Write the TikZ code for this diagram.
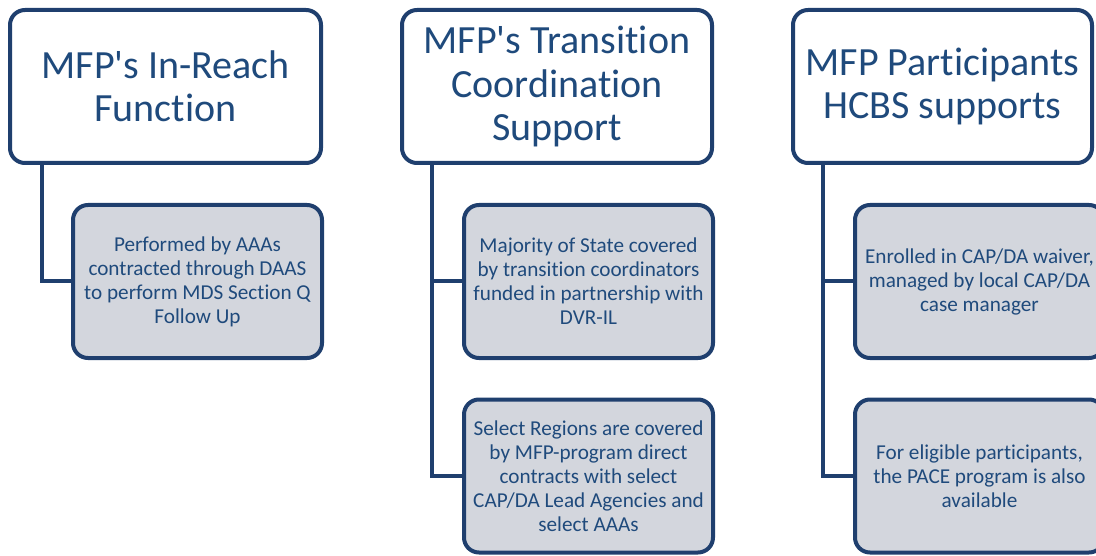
\documentclass[tikz,border=0pt]{standalone}
\usepackage{fontspec}
\setmainfont{Carlito}[Ligatures={TeXOff,NoCommon}]
\definecolor{frame}{HTML}{1F3F6E}
\definecolor{ink}{HTML}{1F4A7C}
\definecolor{subfill}{HTML}{D3D6DD}
\tikzset{
  headbox/.style={draw=frame, line width=4pt, rounded corners=15pt, fill=white,
    outer sep=0pt, inner sep=0pt, text=ink, align=center,
    minimum width=#1, minimum height=153pt,
    font=\fontsize{40}{43.5}\selectfont},
  subbox/.style={draw=frame, line width=4pt, rounded corners=15pt, fill=subfill,
    outer sep=0pt, inner sep=0pt, text=ink, align=center,
    minimum width=249pt, minimum height=153pt,
    font=\fontsize{21.2}{24}\selectfont},
  link/.style={draw=frame, line width=4pt}
}
\begin{document}
\begin{tikzpicture}[x=1pt, y=-1pt]
\useasboundingbox (0,0) rectangle (1096,556);
\begin{scope}
\clip (0,0) rectangle (1096,556);

% column headers
\node[headbox=311pt] (h1) at (165.5,86.5) {MFP's In-Reach\\Function};
\node[headbox=310pt] (h2) at (557,86.5) {MFP's Transition\\Coordination\\Support};
\node[headbox=299pt] (h3) at (942.5,86.5) {MFP Participants\\HCBS supports};

% tree connectors start below each header
\coordinate (t1) at ([xshift=32pt]h1.south west);
\coordinate (t2) at ([xshift=30pt]h2.south west);
\coordinate (t3) at ([xshift=30pt]h3.south west);

% detail boxes
\node[subbox] (c11) at (197.5,281.5) {Performed by AAAs\\contracted through DAAS\\to perform MDS Section Q\\Follow Up};
\node[subbox] (c21) at (588.5,281.5) {Majority of State covered\\by transition coordinators\\funded in partnership with\\DVR-IL};
\node[subbox] (c22) at (588.5,476) {Select Regions are covered\\by MFP-program direct\\contracts with select\\CAP/DA Lead Agencies and\\select AAAs};
\node[subbox] (c31) at (979.5,281.5) {Enrolled in CAP/DA waiver,\\managed by local CAP/DA\\case manager};
\node[subbox] (c32) at (979.5,476) {For eligible participants,\\the PACE program is also\\available};

\draw[link] (t1) |- (c11.west);
\draw[link] (t2) |- (c21.west);
\draw[link] (t2) |- (c22.west);
\draw[link] (t3) |- (c31.west);
\draw[link] (t3) |- (c32.west);
\end{scope}
\end{tikzpicture}
\end{document}
